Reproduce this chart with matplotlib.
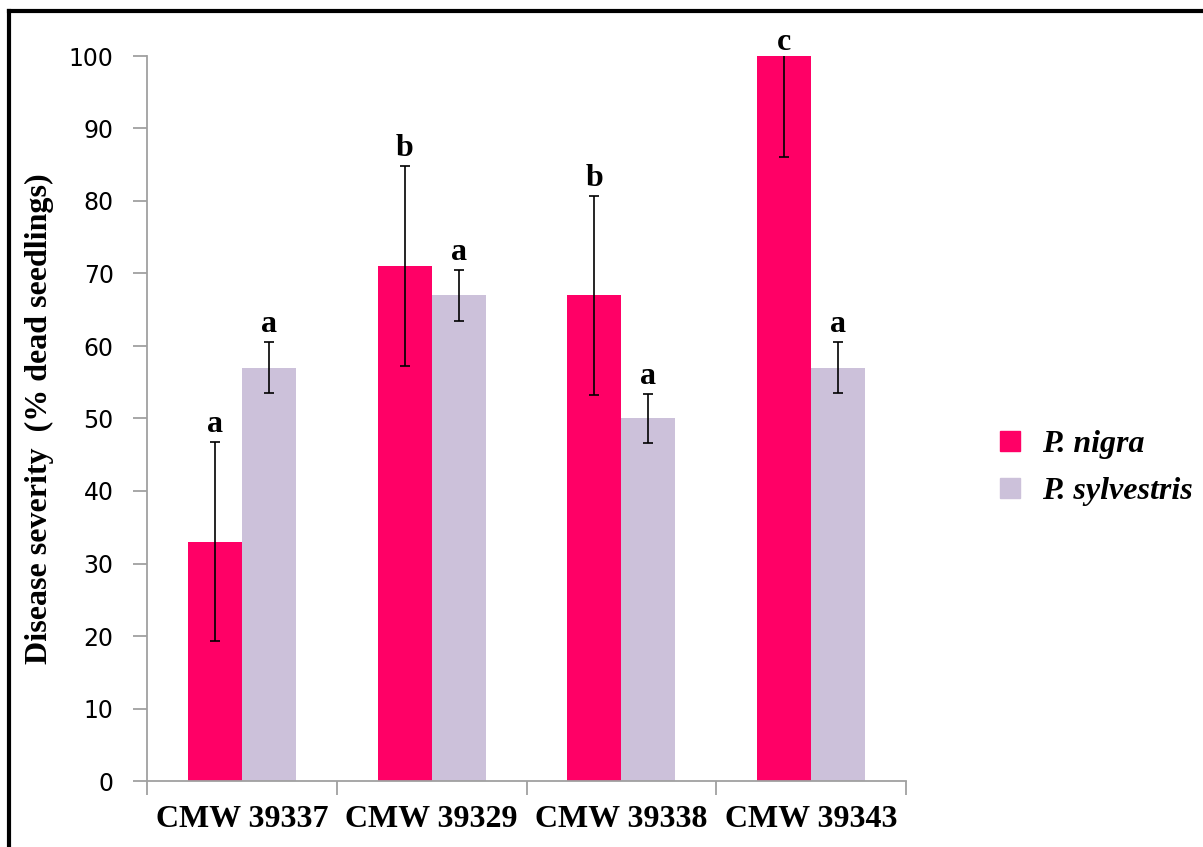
import numpy as np
import matplotlib.pyplot as plt
from matplotlib.lines import Line2D

# Data
isolates = ['CMW 39337', 'CMW 39329', 'CMW 39338', 'CMW 39343']
nigra = [33, 71, 67, 100]
nigra_err = [13.7, 13.8, 13.7, 13.9]
sylvestris = [57, 67, 50, 57]
sylvestris_err = [3.5, 3.5, 3.4, 3.5]
nigra_letters = ['a', 'b', 'b', 'c']
sylvestris_letters = ['a', 'a', 'a', 'a']

pink = '#FF0066'
lavender = '#CCC1DA'
grey = '#A0A0A0'
serif = 'Liberation Serif'

fig = plt.figure(figsize=(12.03, 8.47), dpi=100)
ax = fig.add_axes([147 / 1203, 1 - 781 / 847, (906 - 147) / 1203, (781 - 56) / 847])

x = np.arange(len(isolates))
w = 0.285
ax.bar(x - w / 2, nigra, w, color=pink, label='P. nigra', zorder=2)
ax.bar(x + w / 2, sylvestris, w, color=lavender, label='P. sylvestris', zorder=2)
ax.errorbar(x - w / 2, nigra, yerr=nigra_err, fmt='none', ecolor='black',
            elinewidth=1.2, capsize=3.3, capthick=1.2, zorder=3)
ax.errorbar(x + w / 2, sylvestris, yerr=sylvestris_err, fmt='none', ecolor='black',
            elinewidth=1.2, capsize=3.3, capthick=1.2, zorder=3)

# significance letters
for i in range(len(isolates)):
    top = min(nigra[i] + nigra_err[i] + 1.4, 100.8)
    ax.text(x[i] - w / 2, top, nigra_letters[i], ha='center', va='baseline',
            fontfamily=serif, fontweight='bold', fontsize=23, clip_on=False)
    ax.text(x[i] + w / 2, sylvestris[i] + sylvestris_err[i] + 1.4, sylvestris_letters[i],
            ha='center', va='baseline', fontfamily=serif, fontweight='bold', fontsize=23)

ax.set_xlim(-0.5, len(isolates) - 0.5)
ax.set_ylim(0, 100)
ax.set_yticks(range(0, 101, 10))
ax.set_xticks(x)
ax.set_xticklabels(isolates, fontfamily=serif, fontweight='bold', fontsize=23)
ax.set_xticks(np.arange(-0.5, len(isolates), 1), minor=True)
ax.tick_params(axis='x', which='major', length=0, pad=17)
ax.tick_params(axis='x', which='minor', length=10, color=grey, width=1.3)
ax.tick_params(axis='y', length=10, color=grey, width=1.3, labelsize=17, pad=14)

for s in ['top', 'right']:
    ax.spines[s].set_visible(False)
for s in ['left', 'bottom']:
    ax.spines[s].set_color(grey)
    ax.spines[s].set_linewidth(1.3)

ax.set_ylabel('Disease severity  (% dead seedlings)', fontfamily=serif,
              fontweight='bold', fontsize=23)
ax.yaxis.set_label_coords((54 - 147) / 759, 0.5)

handles = [Line2D([], [], marker='s', linestyle='none', markersize=14, color=pink),
           Line2D([], [], marker='s', linestyle='none', markersize=14, color=lavender)]
fig.legend(handles, ['P. nigra', 'P. sylvestris'], loc='center left',
           bbox_to_anchor=(978 / 1203, 1 - 468 / 847), frameon=False,
           prop={'family': serif, 'weight': 'bold', 'style': 'italic', 'size': 23},
           handletextpad=0.5, labelspacing=0.55, handlelength=1.0, borderpad=0)

# partial black frame (top and left edges visible)
fig.add_artist(Line2D([9 / 1203, 9 / 1203], [0, 1 - 11 / 847], color='black', lw=3))
fig.add_artist(Line2D([9 / 1203, 1], [1 - 11 / 847, 1 - 11 / 847], color='black', lw=3))

fig.savefig('out.png', dpi=100)
